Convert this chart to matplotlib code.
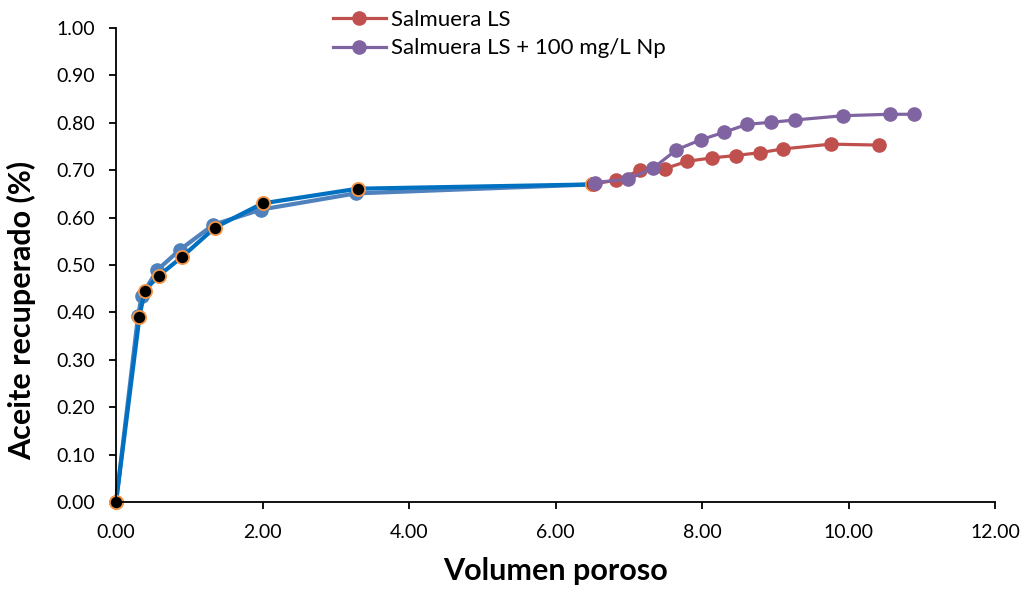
import matplotlib
matplotlib.use("Agg")
import matplotlib.pyplot as plt
import numpy as np

plt.rcParams["font.family"] = ["Lato", "DejaVu Sans"]

# ── DATA ───────────────────────────────────────────────────
# base brine run (two repeats), before the switch to low salinity
vp_base_a   = [0.00, 0.30, 0.35, 0.56, 0.87, 1.33, 1.98, 3.27, 6.50]
rec_base_a  = [0.000, 0.392, 0.435, 0.489, 0.532, 0.585, 0.617, 0.651, 0.670]
vp_base_b   = [0.00, 0.32, 0.39, 0.58, 0.90, 1.35, 2.00, 3.30, 6.50]
rec_base_b  = [0.000, 0.391, 0.446, 0.477, 0.517, 0.579, 0.630, 0.661, 0.670]

# low salinity brine
vp_ls   = [6.52, 6.83, 7.16, 7.49, 7.80, 8.14, 8.46, 8.79, 9.11, 9.76, 10.41]
rec_ls  = [0.671, 0.679, 0.700, 0.703, 0.719, 0.726, 0.731, 0.737, 0.745, 0.755, 0.753]

# low salinity brine + nanoparticles
vp_np   = [6.54, 6.99, 7.33, 7.65, 7.98, 8.30, 8.62, 8.94, 9.27, 9.93, 10.56, 10.90]
rec_np  = [0.674, 0.681, 0.704, 0.743, 0.764, 0.780, 0.797, 0.801, 0.806, 0.815, 0.818, 0.818]

labels = ["Salmuera LS", "Salmuera LS + 100 mg/L Np"]

# ── FIGURE ─────────────────────────────────────────────────
fig = plt.figure(figsize=(10.26, 5.92), dpi=100)
ax = fig.add_axes([0.1131, 0.152, 0.8567, 0.8007])

ax.plot(vp_base_a, rec_base_a, color="#4F81BD", linewidth=3.0, clip_on=False,
        marker="o", markersize=9.5, markerfacecolor="#4F81BD", markeredgecolor="#4F81BD")
ax.plot(vp_base_b, rec_base_b, color="#0070C0", linewidth=3.0, clip_on=False,
        marker="o", markersize=9.5, markerfacecolor="black",
        markeredgecolor="#F79646", markeredgewidth=1.3)
l1, = ax.plot(vp_ls, rec_ls, color="#C0504D", linewidth=2.3,
              marker="o", markersize=9.5, label=labels[0])
l2, = ax.plot(vp_np, rec_np, color="#8064A2", linewidth=2.3,
              marker="o", markersize=9.5, label=labels[1])

ax.set_xlim(0, 12)
ax.set_ylim(0, 1)
ax.set_xticks(np.arange(0, 12.01, 2))
ax.set_yticks(np.arange(0, 1.001, 0.1))
ax.xaxis.set_major_formatter(matplotlib.ticker.FormatStrFormatter("%.2f"))
ax.yaxis.set_major_formatter(matplotlib.ticker.FormatStrFormatter("%.2f"))
ax.tick_params(labelsize=14, length=5, width=1.3, direction="out")
ax.tick_params(axis="y", pad=10)
ax.tick_params(axis="x", pad=11)

for side in ["top", "right"]:
    ax.spines[side].set_visible(False)
for side in ["left", "bottom"]:
    ax.spines[side].set_linewidth(1.3)

ax.set_xlabel("Volumen poroso", fontsize=22, fontweight="bold")
ax.set_ylabel("Aceite recuperado (%)", fontsize=22, fontweight="bold")
ax.xaxis.set_label_coords(0.5, -0.117)
ax.yaxis.set_label_coords(-0.091, 0.405)

ax.legend(handles=[l1, l2], loc="upper left", bbox_to_anchor=(0.305, 1.017),
          bbox_transform=fig.transFigure, frameon=False, fontsize=16,
          handlelength=2.38, handletextpad=0.25, labelspacing=0.38)

fig.savefig("out.png", dpi=100)
